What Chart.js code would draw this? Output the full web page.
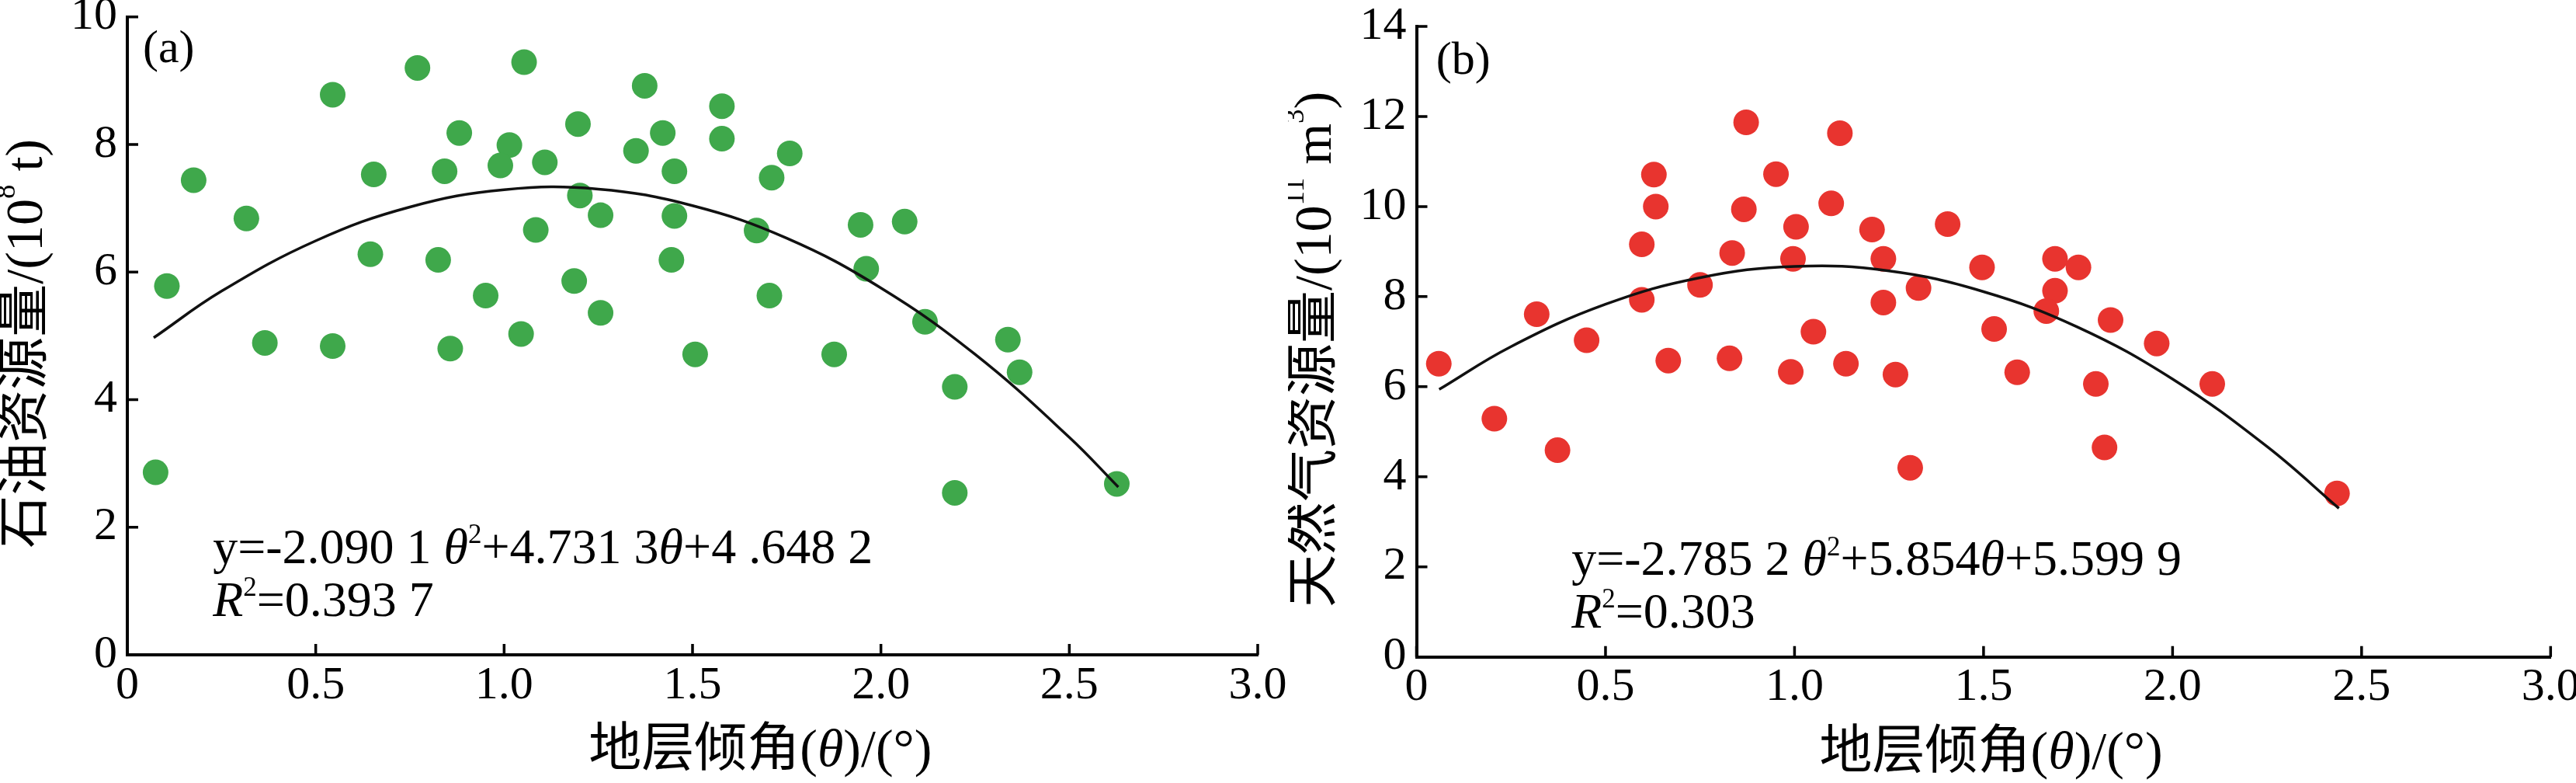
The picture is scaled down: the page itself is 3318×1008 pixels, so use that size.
<!DOCTYPE html>
<html>
<head>
<meta charset="utf-8">
<script src="https://cdn.jsdelivr.net/npm/chart.js@4.4.0/dist/chart.umd.min.js"></script>
<style>
html,body{margin:0;padding:0;background:#fff;}
#wrap{position:relative;width:3318px;height:1008px;overflow:hidden;}
.box{position:absolute;top:0;width:1659px;height:1008px;}
#boxA{left:0;}
#boxB{left:1659px;}
</style>
</head>
<body>
<div id="wrap">
  <div class="box" id="boxA"><canvas id="cA"></canvas></div>
  <div class="box" id="boxB"><canvas id="cB"></canvas></div>
</div>
<script>
// ---------- data ----------
const xTickValues = [0, 0.5, 1.0, 1.5, 2.0, 2.5, 3.0];
const oilYTicks = [0, 2, 4, 6, 8, 10];
const gasYTicks = [0, 2, 4, 6, 8, 10, 12, 14];

// (a) oil resources vs. stratum dip angle
const oilTheta = [0.105,0.176,0.316,0.365,0.545,0.545,0.654,0.645,0.770,0.881,0.842,0.825,0.857,0.951,1.053,1.014,0.990,1.108,1.045,1.084,1.196,1.201,1.256,1.186,1.256,1.350,1.373,1.578,1.421,1.578,1.758,1.452,1.710,1.452,1.670,1.946,2.063,1.444,1.961,1.704,2.117,1.507,1.876,2.337,2.368,2.196,0.075,2.196,2.626];
const oilRes   = [5.78,7.44,6.84,4.89,8.78,4.84,7.53,6.28,9.20,8.18,7.58,6.19,4.80,5.63,9.29,7.99,7.67,7.72,5.03,6.66,8.32,7.20,6.89,5.86,5.36,7.90,8.92,8.60,8.18,8.09,7.86,7.58,7.48,6.88,6.65,6.74,6.79,6.19,6.05,5.63,5.22,4.71,4.71,4.94,4.43,4.20,2.86,2.54,2.68];
// fitted curve
const oilFitTheta = [0.07,0.25,0.5,0.75,1.0,1.25,1.5,1.75,2.0,2.25,2.5,2.63];
const oilFitRes   = [4.97,5.70,6.49,7.02,7.29,7.30,7.04,6.53,5.75,4.71,3.41,2.63];

// (b) gas resources vs. stratum dip angle
const gasTheta = [0.059,0.318,0.450,0.628,0.633,0.596,0.596,0.666,0.750,0.872,0.866,0.835,0.828,0.951,1.004,0.996,0.990,1.120,1.097,1.050,1.136,1.205,1.235,1.235,1.267,1.328,1.405,1.496,1.689,1.751,1.689,1.666,1.528,1.836,1.958,1.589,1.797,2.105,1.820,2.435,0.206,0.373,1.306];
const gasRes   = [6.51,7.61,7.03,10.71,10.00,9.16,7.93,6.58,8.26,11.87,9.94,8.97,6.63,10.72,9.55,8.84,6.33,11.63,10.07,7.22,6.51,9.49,8.84,7.87,6.27,8.19,9.61,8.65,8.84,8.65,8.13,7.68,7.28,7.48,6.96,6.32,6.06,6.06,4.65,3.63,5.29,4.59,4.20];
const gasFitTheta = [0.06,0.25,0.5,0.75,1.0,1.25,1.5,1.75,2.0,2.25,2.44];
const gasFitRes   = [5.94,6.89,7.83,8.42,8.67,8.57,8.11,7.32,6.17,4.67,3.30];

// ---------- drawing helpers ----------
const SERIF = "'Liberation Serif','Times New Roman','Noto Sans CJK SC',serif";

function fontFor(seg, size) {
  const s = seg.sup ? Math.round(size * 0.55) : size;
  return (seg.i ? 'italic ' : '') + s + 'px ' + SERIF;
}
function drawRich(ctx, segs, x, y, size, align, baseline) {
  let total = 0;
  const parts = segs.map(s => {
    const f = fontFor(s, size);
    ctx.font = f;
    const w = ctx.measureText(s.t).width;
    total += w;
    return {s, f, w};
  });
  let cx = align === 'center' ? x - total / 2 : x;
  ctx.textAlign = 'left';
  ctx.textBaseline = baseline;
  for (const p of parts) {
    ctx.font = p.f;
    ctx.fillText(p.s.t, cx, y + (p.s.sup ? -size * 0.4 : 0));
    cx += p.w;
  }
}

const decor = {
  id: 'decor',
  afterDraw(chart, args, o) {
    const {ctx, chartArea: a, scales: {x, y}} = chart;
    ctx.save();
    // inward tick marks
    ctx.strokeStyle = '#000';
    ctx.lineWidth = 3.5;
    ctx.beginPath();
    for (const v of o.xt) {
      const px = x.getPixelForValue(v);
      ctx.moveTo(px, a.bottom); ctx.lineTo(px, a.bottom - 14);
    }
    for (const v of o.yt) {
      const py = y.getPixelForValue(v);
      ctx.moveTo(a.left, py); ctx.lineTo(a.left + 14, py);
    }
    ctx.stroke();
    ctx.fillStyle = '#000';
    // panel label
    drawRich(ctx, [{t: o.panel}], x.getPixelForValue(o.panelAt[0]), y.getPixelForValue(o.panelAt[1]), 60, 'left', 'alphabetic');
    // regression equation and R^2
    drawRich(ctx, o.eq1, x.getPixelForValue(o.eqAt[0]), y.getPixelForValue(o.eqAt[1]), 64, 'left', 'alphabetic');
    drawRich(ctx, o.eq2, x.getPixelForValue(o.eqAt[0]), y.getPixelForValue(o.eqAt[2]), 64, 'left', 'alphabetic');
    // x axis title
    drawRich(ctx, o.xTitle, x.getPixelForValue(o.xTitleAt), a.bottom + 143, 68, 'center', 'alphabetic');
    // y axis title (rotated)
    ctx.translate(a.left - 128, (a.top + a.bottom) / 2 + 10);
    ctx.rotate(-Math.PI / 2);
    drawRich(ctx, o.yTitle, 0, 0, 68, 'center', 'middle');
    ctx.restore();
  }
};

function makeChart(id, c) {
  const tickFont = {family: SERIF, size: 60};
  return new Chart(document.getElementById(id), {
    type: 'scatter',
    data: {
      datasets: [
        {
          type: 'line',
          data: c.fitX.map((v, i) => ({x: v, y: c.fitY[i]})),
          borderColor: '#111', borderWidth: 3.5, pointRadius: 0, tension: 0.4, fill: false, order: 0
        },
        {
          type: 'scatter',
          data: c.px.map((v, i) => ({x: v, y: c.py[i]})),
          backgroundColor: c.color, borderWidth: 0, pointRadius: 16.5, pointHoverRadius: 16.5, order: 1
        }
      ]
    },
    options: {
      responsive: true, maintainAspectRatio: false, animation: false, devicePixelRatio: 1,
      events: [],
      layout: {padding: {left: 0, right: c.padR, top: c.padT, bottom: c.padB}},
      plugins: {
        legend: {display: false},
        tooltip: {enabled: false},
        decor: c.decor
      },
      scales: {
        x: {
          type: 'linear', min: 0, max: 3,
          afterBuildTicks: s => { s.ticks = xTickValues.map(v => ({value: v})); },
          ticks: {autoSkip: false, maxRotation: 0, minRotation: 0, padding: 4, color: '#000', font: tickFont,
                  callback: v => (v === 0 ? '0' : Number(v).toFixed(1))},
          grid: {display: false, drawTicks: false},
          border: {display: true, color: '#000', width: 4},
          afterFit: s => { s.height = 100; s.paddingLeft = 0; s.paddingRight = 0; }
        },
        y: {
          type: 'linear', min: 0, max: c.ymax,
          afterBuildTicks: s => { s.ticks = c.yt.map(v => ({value: v})); },
          ticks: {autoSkip: false, padding: 13, color: '#000', font: tickFont, callback: v => String(v)},
          grid: {display: false, drawTicks: false},
          border: {display: true, color: '#000', width: 4},
          afterFit: s => { s.width = c.left; s.paddingTop = 0; s.paddingBottom = 0; }
        }
      }
    },
    plugins: [decor]
  });
}

makeChart('cA', {
  px: oilTheta, py: oilRes, fitX: oilFitTheta, fitY: oilFitRes,
  color: '#3fa84b', ymax: 10, yt: oilYTicks,
  left: 164, padR: 39, padT: 21.7, padB: 65,
  decor: {
    xt: xTickValues, yt: oilYTicks,
    panel: '(a)', panelAt: [0.041, 9.29],
    eqAt: [0.227, 1.44, 0.61],
    eq1: [{t: 'y=-2.090 1 '}, {t: 'θ', i: 1}, {t: '2', sup: 1}, {t: '+4.731 3'}, {t: 'θ', i: 1}, {t: '+4 .648 2'}],
    eq2: [{t: 'R', i: 1}, {t: '2', sup: 1}, {t: '=0.393 7'}],
    xTitle: [{t: '地层倾角('}, {t: 'θ', i: 1}, {t: ')/(°)'}], xTitleAt: 1.68,
    yTitle: [{t: '石油资源量/(10'}, {t: '8', sup: 1}, {t: ' t)'}]
  }
});

makeChart('cB', {
  px: gasTheta, py: gasRes, fitX: gasFitTheta, fitY: gasFitRes,
  color: '#e8342f', ymax: 14, yt: gasYTicks,
  left: 165.5, padR: 32.7, padT: 34, padB: 62.3,
  decor: {
    xt: xTickValues, yt: gasYTicks,
    panel: '(b)', panelAt: [0.052, 12.95],
    eqAt: [0.41, 1.82, 0.65],
    eq1: [{t: 'y=-2.785 2 '}, {t: 'θ', i: 1}, {t: '2', sup: 1}, {t: '+5.854'}, {t: 'θ', i: 1}, {t: '+5.599 9'}],
    eq2: [{t: 'R', i: 1}, {t: '2', sup: 1}, {t: '=0.303'}],
    xTitle: [{t: '地层倾角('}, {t: 'θ', i: 1}, {t: ')/(°)'}], xTitleAt: 1.52,
    yTitle: [{t: '天然气资源量/(10'}, {t: '11', sup: 1}, {t: ' m'}, {t: '3', sup: 1}, {t: ')'}]
  }
});
</script>
</body>
</html>
